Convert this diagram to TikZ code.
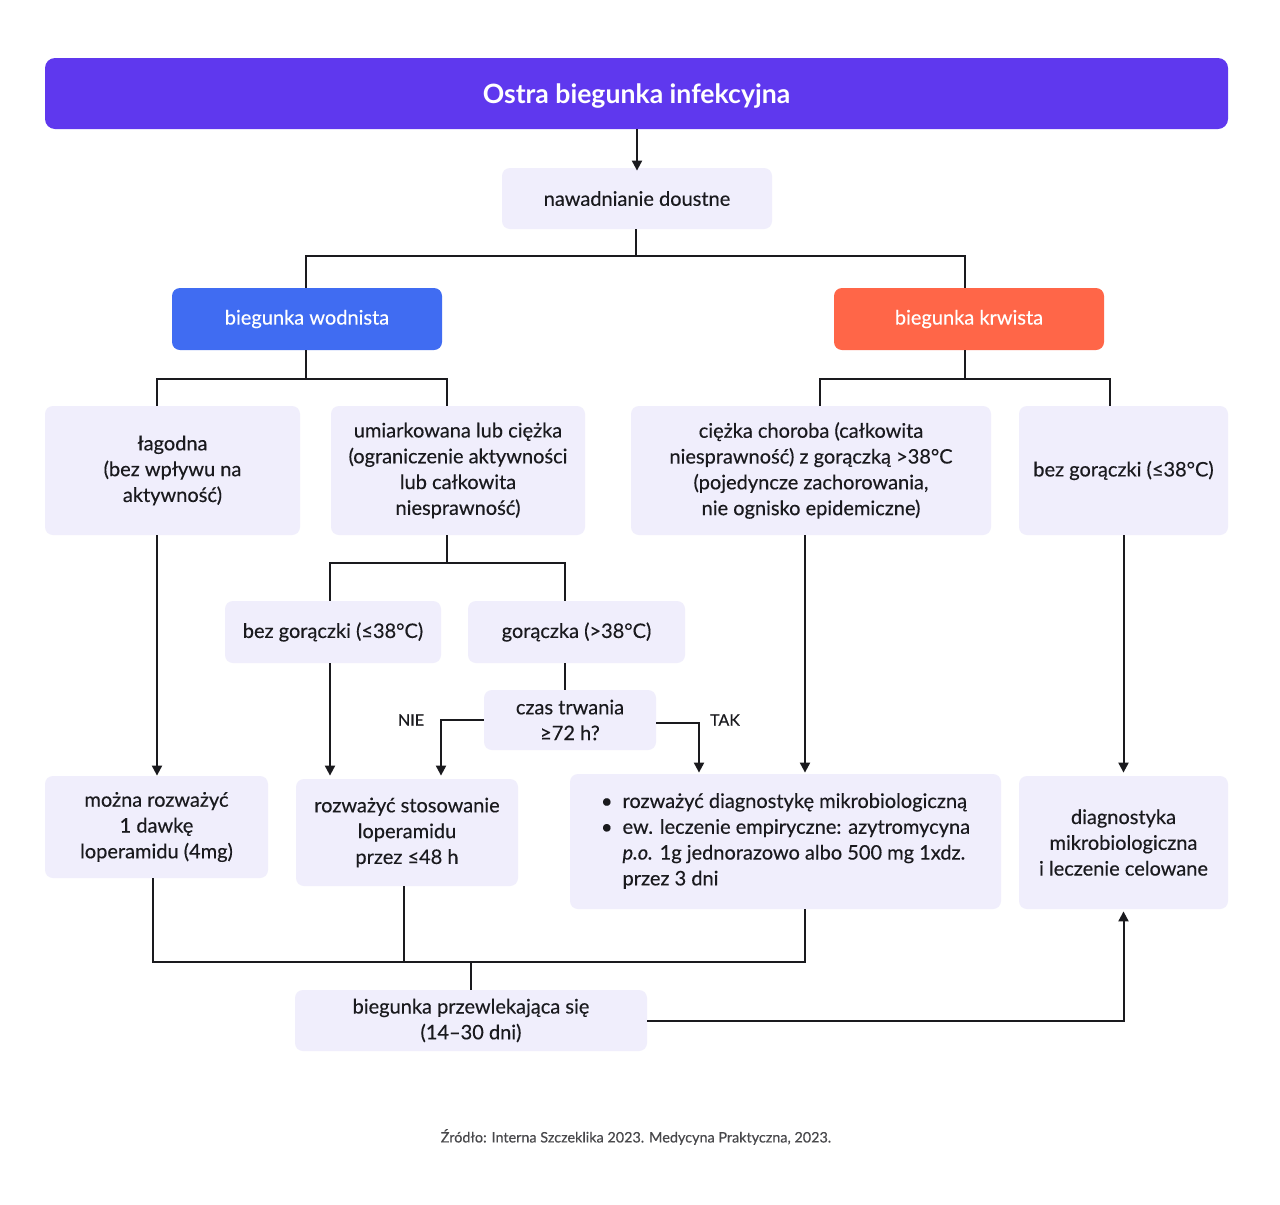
\documentclass[tikz,border=0pt]{standalone}
\usepackage{fontspec}
\setmainfont{Lato}[UprightFeatures={FakeBold=0.35}, ItalicFeatures={FakeBold=0.35}]
\usetikzlibrary{arrows.meta}
\definecolor{titlecol}{RGB}{95,56,238}
\definecolor{watercol}{RGB}{64,108,242}
\definecolor{bloodcol}{RGB}{255,102,72}
\definecolor{boxcol}{RGB}{240,238,252}
\definecolor{txtcol}{RGB}{26,26,30}
\tikzset{box/.style={fill=boxcol, rounded corners=4pt, align=center, inner sep=0pt,
        text=txtcol, font=\fontsize{10}{12.9}\selectfont},
    sz/.style 2 args={minimum width=#1, minimum height=#2},
    headbox/.style={box, fill=#1, text=white},
    ln/.style={line width=1pt, draw=txtcol},
    arr/.style={ln, -{Triangle[width=5pt,length=5pt]}},
    }
\begin{document}
\begin{tikzpicture}[x=0.5pt, y=-0.5pt]
\useasboundingbox[fill=white] (0,0) rectangle (1280,1205);
% title and first step
\node[box, fill=titlecol, text=white, rounded corners=5pt, sz={591.5pt}{35.5pt}, text depth=0pt,
    font=\fontsize{13.3}{15}\selectfont\bfseries] (title) at (636.5,93.5) {Ostra biegunka infekcyjna};
\node[box, sz={135pt}{30.5pt}] (naw) at (637,198.5) {nawadnianie doustne};
\node[headbox=watercol, sz={135pt}{31pt}] (wodn) at (307,319) {biegunka wodnista};
\node[headbox=bloodcol, sz={135pt}{31pt}] (krw) at (969,319) {biegunka krwista};
% second row
\node[box, sz={127.5pt}{64.5pt}] (lag) at (172.5,470.5) {łagodna\\(bez wpływu na\\aktywność)};
\node[box, sz={127pt}{64.5pt}] (umiark) at (458,470.5)
    {umiarkowana lub ciężka\\(ograniczenie aktywności\\lub całkowita\\niesprawność)};
\node[box, sz={180pt}{64.5pt}] (ciez) at (811,470.5)
    {ciężka choroba (całkowita\\niesprawność) z gorączką >38°C\\(pojedyncze zachorowania,\\nie ognisko epidemiczne)};
\node[box, sz={104.5pt}{64.5pt}] (bezR) at (1123.5,470.5) {bez gorączki (≤38°C)};
% fever split
\node[box, sz={108pt}{31pt}] (bezM) at (333,632) {bez gorączki (≤38°C)};
\node[box, sz={108.5pt}{31pt}] (gor) at (576.5,632) {gorączka (>38°C)};
\node[box, sz={86pt}{30pt}] (czas) at (570,720) {czas trwania\\≥72 h?};
\node[text=txtcol, font=\fontsize{8}{10}\selectfont] (nie) at (411,720) {NIE};
\node[text=txtcol, font=\fontsize{8}{10}\selectfont] (tak) at (725,720) {TAK};
% treatment row
\node[box, sz={111.5pt}{51pt}] (mozna) at (156.5,827) {można rozważyć\\1 dawkę\\loperamidu (4mg)};
\node[box, sz={111pt}{53.5pt}] (rozw) at (407,832.5) {rozważyć stosowanie\\loperamidu\\przez ≤48 h};
\node[box, sz={215.5pt}{67.5pt}] (bull) at (785.5,841.5)
    {\begin{tabular}{@{}l@{\hspace{5pt}}l@{}}
    \textbullet & rozważyć diagnostykę mikrobiologiczną\\
    \textbullet & ew. leczenie empiryczne: azytromycyna\\
     & \textit{p.o.} 1g jednorazowo albo 500 mg 1xdz.\\
     & przez 3 dni
    \end{tabular}};
\node[box, sz={104.5pt}{66.5pt}] (diag) at (1123.5,842.5) {diagnostyka\\mikrobiologiczna\\i leczenie celowane};
\node[box, sz={176pt}{30.5pt}] (przew) at (471,1020.5) {biegunka przewlekająca się\\(14–30 dni)};
\node[text=txtcol!80, font=\fontsize{7.2}{9}\selectfont] (src) at (636,1137)
    {Źródło: Interna Szczeklika 2023. Medycyna Praktyczna, 2023.};
% junctions
\coordinate (j1) at (636,256);
\coordinate (j2) at (306,379);
\coordinate (j3) at (965,379);
\coordinate (j4) at (447,563);
\coordinate (j5) at (471,962);
\coordinate (r5) at ([xshift=-1.5pt]rozw.south);
% connectors
\draw[arr] (title.south -| naw.north) -- ([yshift=-1.5pt]naw.north);
\draw[ln] ([xshift=-0.5pt]naw.south) -- (j1);
\draw[ln] (wodn.north -| j2) |- (j1) -| ([xshift=-2pt]krw.north);
\draw[ln] (wodn.south -| j2) -- (j2);
\draw[ln] ([xshift=-7.75pt]lag.north) |- (j2) -| ([xshift=-5.5pt]umiark.north);
\draw[ln] ([xshift=-2pt]krw.south) -- (j3);
\draw[ln] ([xshift=4.5pt]ciez.north) |- (j3) -| ([xshift=-6.75pt]bezR.north);
\draw[ln] ([xshift=-5.5pt]umiark.south) -- (j4);
\draw[ln] ([xshift=-1.5pt]bezM.north) |- (j4) -| ([xshift=-5.75pt]gor.north);
\draw[ln] ([xshift=-5.75pt]gor.south) -- ([xshift=-5.75pt]gor.south |- czas.north);
\draw[arr] (czas.west) -| ([xshift=17pt,yshift=1.5pt]rozw.north);
\draw[arr] ([yshift=-1.5pt]czas.east) -| ([xshift=-43.25pt,yshift=0.5pt]bull.north);
\draw[arr] ([xshift=-7.75pt]lag.south) -- ([xshift=-7.75pt]lag.south |- mozna.north);
\draw[arr] ([xshift=-1.5pt]bezM.south) -- ([xshift=-1.5pt,yshift=1.5pt]bezM.south |- rozw.north);
\draw[arr] ([xshift=-3pt]ciez.south) -- ([xshift=-3pt,yshift=0.5pt]ciez.south |- bull.north);
\draw[arr] (bezR.south) -- ([yshift=1.5pt]diag.north);
\draw[ln] ([xshift=-1.75pt]mozna.south) |- (j5);
\draw[ln] (r5) -- (r5 |- j5);
\draw[ln] ([xshift=-3pt]ciez.south |- bull.south) |- (j5);
\draw[ln] (j5) -- (przew.north);
\draw[arr] (przew.east) -| ([yshift=-1pt]diag.south);
\end{tikzpicture}
\end{document}
